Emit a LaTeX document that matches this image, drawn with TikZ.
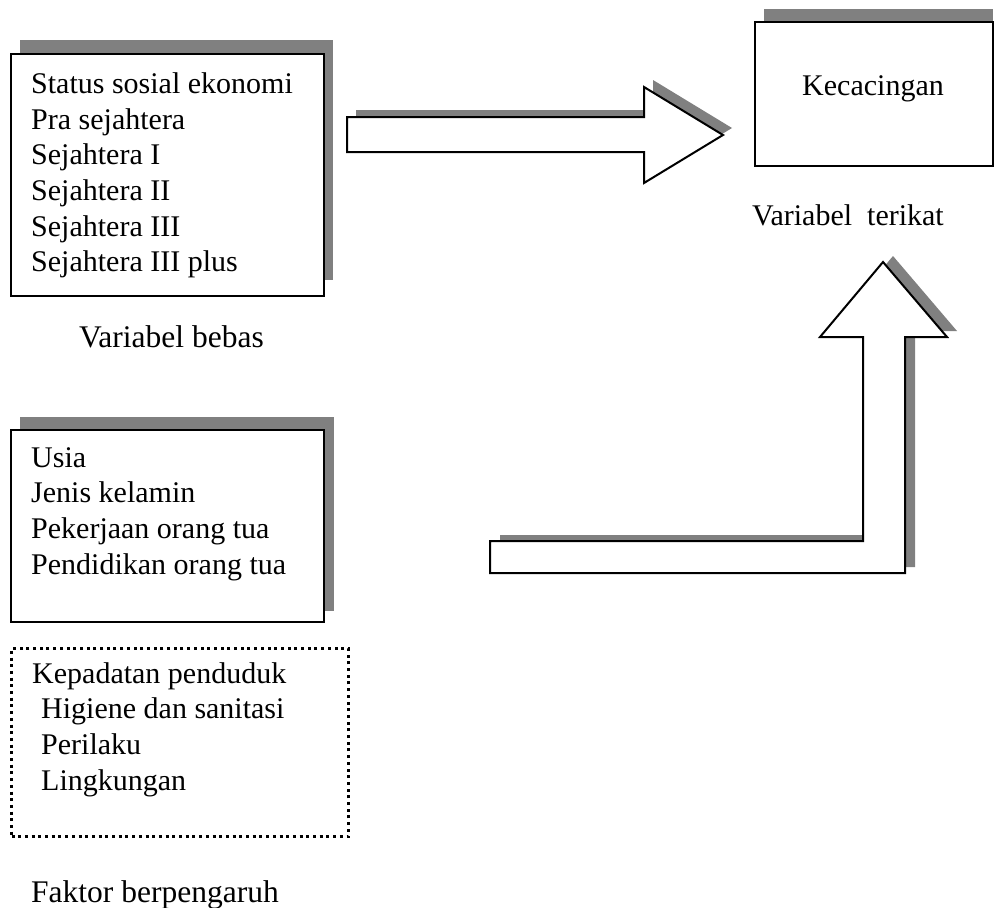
\documentclass[tikz,border=0pt]{standalone}
\usepackage{fontspec}
\setmainfont{Liberation Serif}
\begin{document}
\begin{tikzpicture}[x=1pt,y=-1pt,
  shadowfill/.style={fill=black!50,draw=none},
  box/.style={draw=black,line width=2pt,fill=white,inner sep=0pt,anchor=north west},
  dotbox/.style={draw=black,line width=3pt,dash pattern=on 3pt off 3.7pt,fill=white,inner sep=0pt,anchor=north west},
  blockarrow/.style={draw=black,line width=2pt,fill=white,line join=miter},
  txt/.style={inner sep=0pt,align=left,font=\fontsize{30}{35.7}\selectfont},
  lbl/.style={inner sep=0pt,font=\fontsize{31.5}{36}\selectfont}]
\useasboundingbox (0,0) rectangle (995,907);

% shadows
\fill[shadowfill] (20,40) rectangle (333,280);
\fill[shadowfill] (20,417) rectangle (334,611);
\fill[shadowfill] (764,9) rectangle (993,153);
\fill[shadowfill,shift={(9,-7)}] (347,117) -- (644,117) -- (644,87) -- (723,135) -- (644,183) -- (644,152) -- (347,152) -- cycle;
\fill[shadowfill,shift={(10,-6)}] (490,541) -- (863,541) -- (863,337) -- (820,337) -- (883,262) -- (947,337) -- (905,337) -- (905,573) -- (490,573) -- cycle;

% boxes
\node[box,minimum width=313pt,minimum height=242pt] (b1) at (10,53) {};
\node[box,minimum width=313pt,minimum height=192pt] (b2) at (10,429) {};
\node[box,minimum width=238pt,minimum height=144pt] (b3) at (754,21) {};
\node[dotbox,minimum width=337pt,minimum height=188pt] (b4) at (10,647) {};

% block arrows
\draw[blockarrow] (347,117) -- (644,117) -- (644,87) -- (723,135) -- (644,183) -- (644,152) -- (347,152) -- cycle;
\draw[blockarrow] (490,541) -- (863,541) -- (863,337) -- (820,337) -- (883,262) -- (947,337) -- (905,337) -- (905,573) -- (490,573) -- cycle;

% texts (base anchor = baseline of last line)
\node[txt,anchor=base west] (t1) at (31,271.8) {Status sosial ekonomi\\Pra sejahtera\\Sejahtera I\\Sejahtera II\\Sejahtera III\\Sejahtera III plus};
\node[txt,anchor=base west] (t2) at (31,574.1) {Usia\\Jenis kelamin\\Pekerjaan orang tua\\Pendidikan orang tua};
\node[txt,anchor=base west] (t4) at (32,790.1) {Kepadatan penduduk\\\hspace*{9pt}Higiene dan sanitasi\\\hspace*{9pt}Perilaku\\\hspace*{9pt}Lingkungan};
\node[txt,anchor=base] (t3) at (873,95) {Kecacingan};

% labels
\node[lbl,anchor=base west] (l1) at (79,347) {Variabel bebas};
\node[txt,anchor=base west] (l2) at (752,225) {Variabel\ \ terikat};
\node[lbl,anchor=base west] (l3) at (31,902) {Faktor berpengaruh};
\end{tikzpicture}
\end{document}
